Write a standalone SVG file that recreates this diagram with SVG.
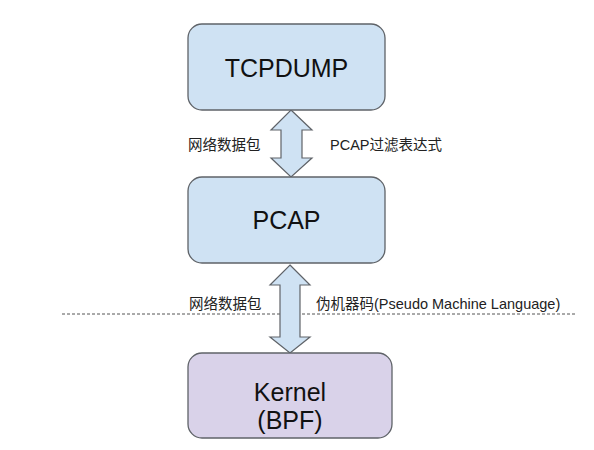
<svg xmlns="http://www.w3.org/2000/svg" width="594" height="450" viewBox="0 0 594 450">
<style>
.box{stroke:#5f6368;stroke-width:1.3}
.blue{fill:#cfe2f3}
.purple{fill:#d9d2e9}
.title{font-family:"Liberation Sans","Noto Sans CJK SC",sans-serif;font-size:25px;fill:#111;text-anchor:middle}
.lbl{font-family:"Liberation Sans","Noto Sans CJK SC",sans-serif;font-size:14.5px;fill:#222}
.arrow{fill:#cfe2f3;stroke:#5f6368;stroke-width:1.2;stroke-linejoin:miter}
</style>
<rect width="594" height="450" fill="#ffffff"/>
<g id="connectors">
<line x1="62" y1="314" x2="575" y2="314" stroke="#555" stroke-width="1" stroke-dasharray="3,2"/>
<polygon class="arrow" points="291,110 312,130 302,130 302,158 312,158 291,177 271,158 281,158 281,130 271,130"/>
<polygon class="arrow" points="290,265 310,285 300,285 300,337 310,337 290,353 270,337 280,337 280,285 270,285"/>
<text class="lbl" x="188" y="150">网络数据包</text>
<text class="lbl" x="330" y="150">PCAP过滤表达式</text>
<text class="lbl" x="189" y="309">网络数据包</text>
<text class="lbl" x="316" y="309">伪机器码(Pseudo Machine Language)</text>
</g>
<g id="tcpdump">
<rect class="box blue" x="188" y="24" width="197" height="86" rx="14"/>
<text class="title" x="286.5" y="77">TCPDUMP</text>
</g>
<g id="pcap">
<rect class="box blue" x="188" y="177" width="197" height="86" rx="14"/>
<text class="title" x="286.5" y="229">PCAP</text>
</g>
<g id="kernel">
<rect class="box purple" x="188" y="353" width="204" height="85" rx="14"/>
<text class="title" x="290" y="401">Kernel</text>
<text class="title" x="290" y="429">(BPF)</text>
</g>
</svg>
